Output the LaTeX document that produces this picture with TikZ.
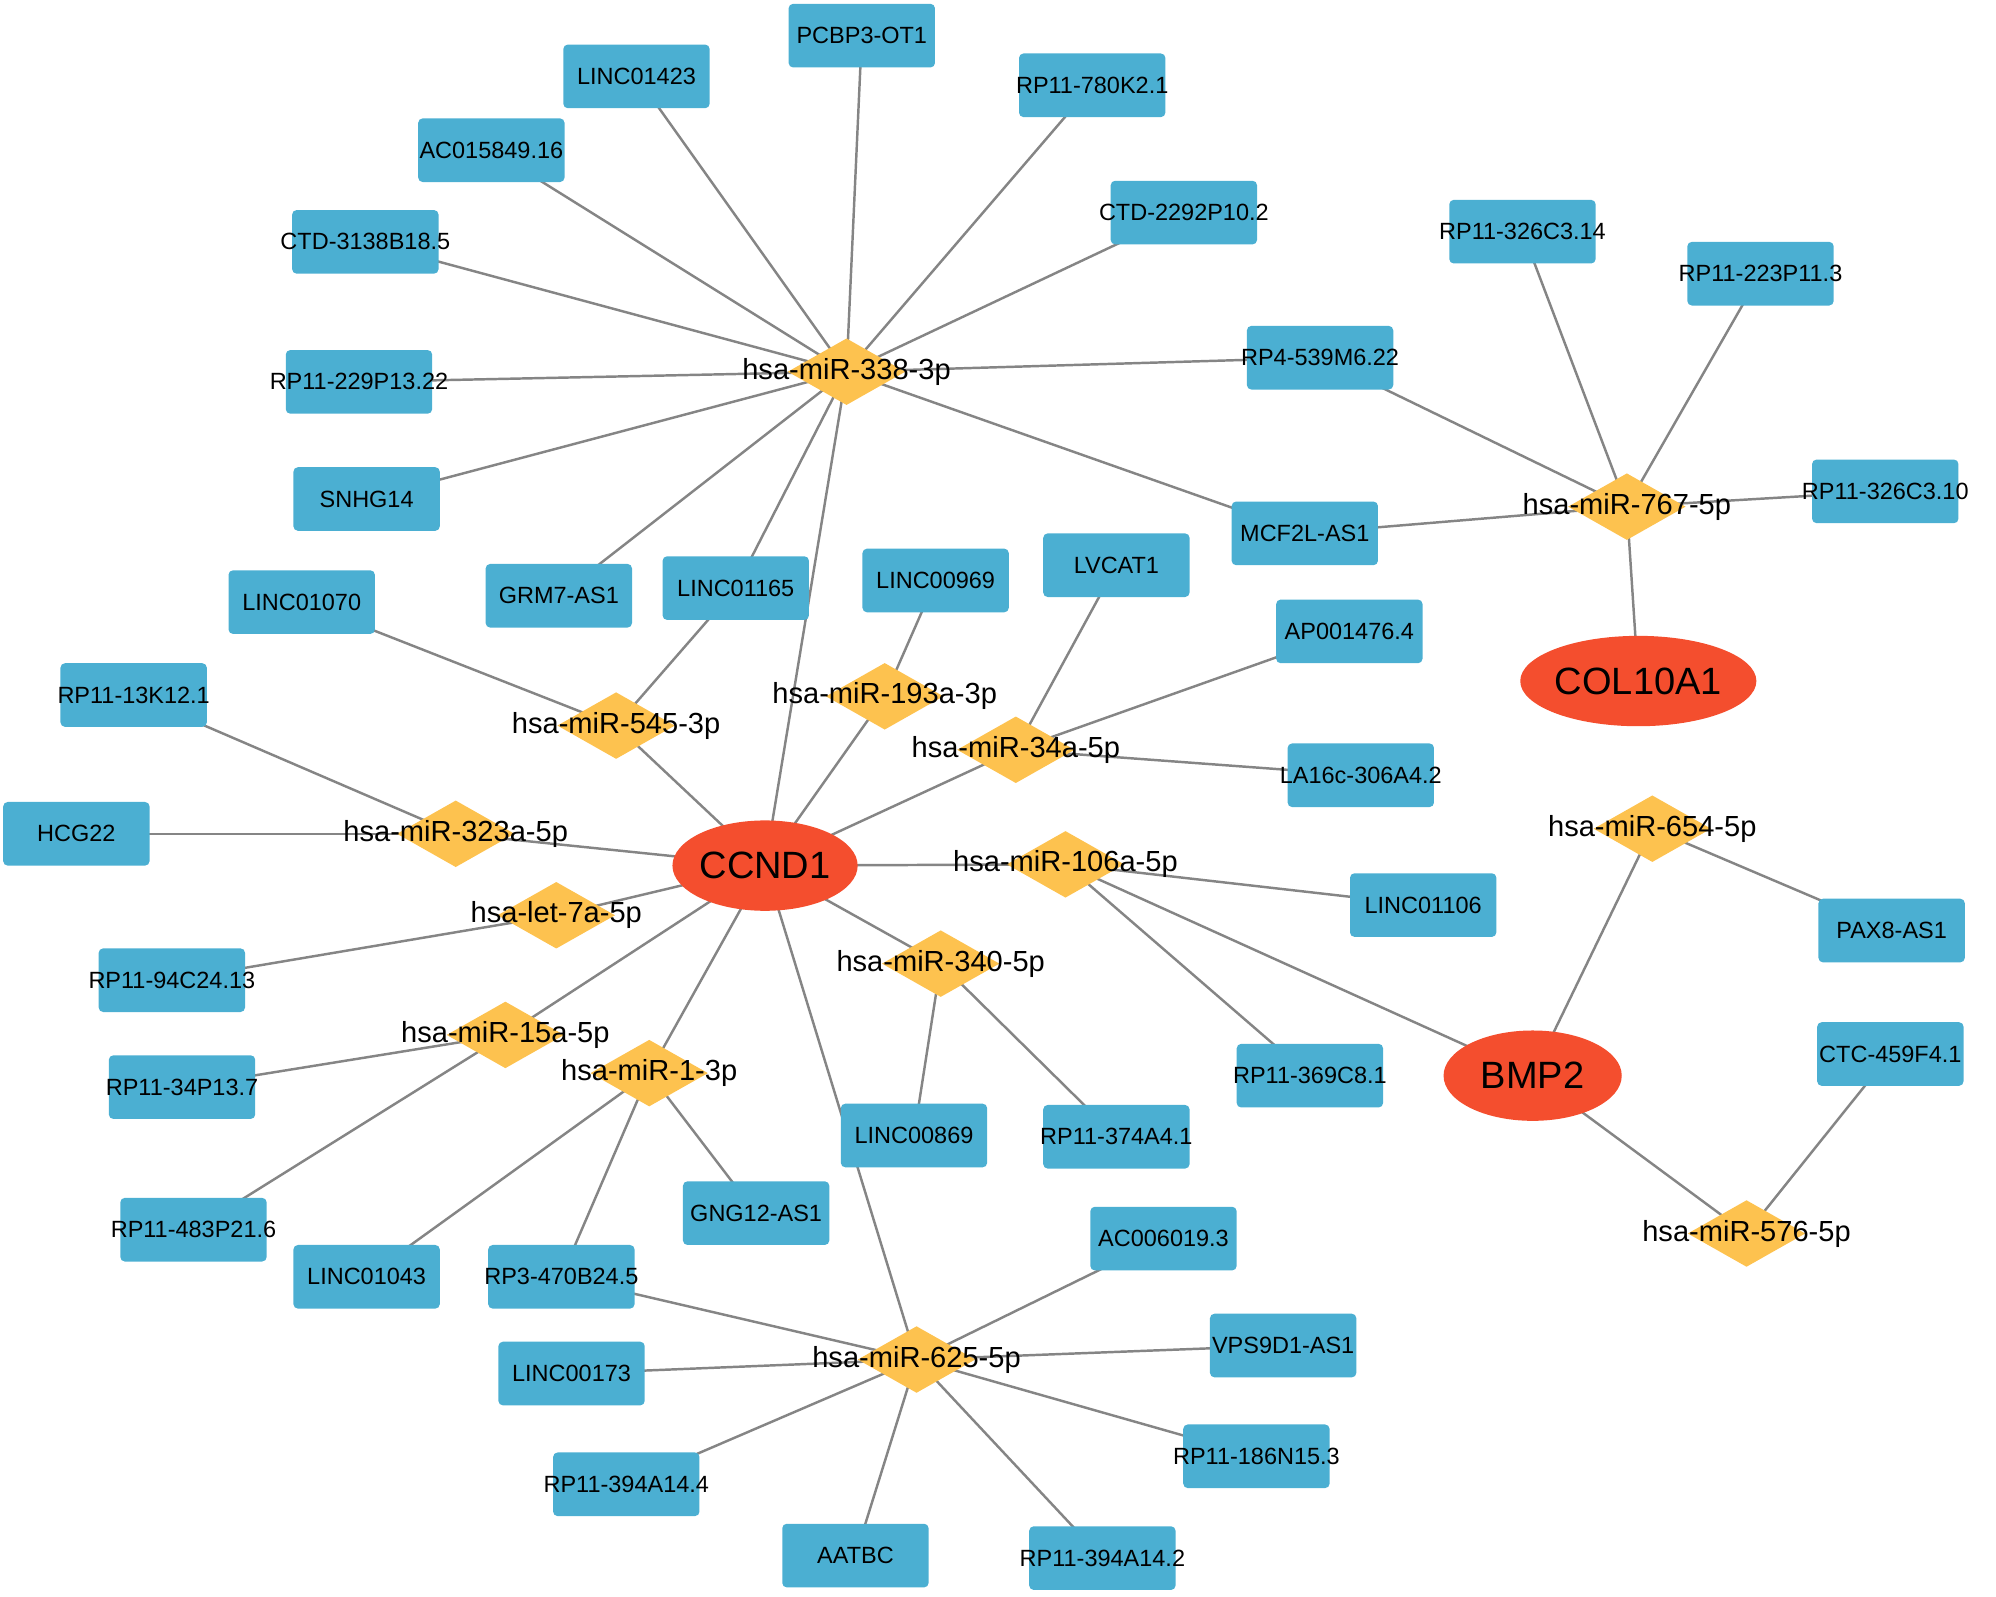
\documentclass[tikz,border=0pt]{standalone}
\usepackage{fontspec}
\setmainfont{Liberation Sans}
\usetikzlibrary{shapes.geometric,backgrounds}
\definecolor{boxc}{HTML}{4BAFD2}
\definecolor{diac}{HTML}{FDC24F}
\definecolor{genec}{HTML}{F44E2E}
\definecolor{edgec}{HTML}{858585}
\tikzset{
  bxs/.style={rectangle,rounded corners=2pt,fill=boxc,minimum width=2.3cm,minimum height=1.0cm,inner sep=0},
  bxt/.style={font=\fontsize{10.5}{12}\selectfont,inner sep=0},
  dias/.style={diamond,fill=diac,minimum width=1.85cm,minimum height=1.05cm,inner sep=0},
  diat/.style={font=\fontsize{13}{15}\selectfont,inner sep=0},
  genes/.style={ellipse,fill=genec,minimum width=2.8cm,minimum height=1.42cm,inner sep=0,font=\fontsize{17}{20}\selectfont},
  edge/.style={draw=edgec,line width=1.1pt}
}
\newcommand{\bx}[4]{\node[bxs] (#1) at (#2,#3) {}; \node[bxt] at (#2,#3) {#4};}
\newcommand{\mir}[4]{\node[dias] (#1) at (#2,#3) {}; \node[diat] at (#2,#3) {#4};}
\begin{document}
\begin{tikzpicture}[x=0.02cm,y=-0.02cm]
\useasboundingbox (0,0) rectangle (1568,1254);
\bx{a1}{500}{60}{LINC01423}
\bx{a2}{677}{28}{PCBP3-OT1}
\bx{a3}{858}{67}{RP11-780K2.1}
\bx{a4}{386}{118}{AC015849.16}
\bx{a5}{930}{167}{CTD-2292P10.2}
\bx{a6}{287}{190}{CTD-3138B18.5}
\bx{a7}{1196}{182}{RP11-326C3.14}
\bx{a8}{1383}{215}{RP11-223P11.3}
\bx{a9}{282}{300}{RP11-229P13.22}
\bx{a10}{1037}{281}{RP4-539M6.22}
\bx{a11}{288}{392}{SNHG14}
\bx{a12}{1481}{386}{RP11-326C3.10}
\bx{a13}{1025}{419}{MCF2L-AS1}
\bx{a14}{439}{468}{GRM7-AS1}
\bx{a15}{578}{462}{LINC01165}
\bx{a16}{735}{456}{LINC00969}
\bx{a17}{877}{444}{LVCAT1}
\bx{a18}{237}{473}{LINC01070}
\bx{a19}{1060}{496}{AP001476.4}
\bx{a20}{105}{546}{RP11-13K12.1}
\bx{a21}{1069}{609}{LA16c-306A4.2}
\bx{a22}{60}{655}{HCG22}
\bx{a23}{1118}{711}{LINC01106}
\bx{a24}{1486}{731}{PAX8-AS1}
\bx{a25}{135}{770}{RP11-94C24.13}
\bx{a26}{1485}{828}{CTC-459F4.1}
\bx{a27}{143}{854}{RP11-34P13.7}
\bx{a28}{1029}{845}{RP11-369C8.1}
\bx{a29}{718}{892}{LINC00869}
\bx{a30}{877}{893}{RP11-374A4.1}
\bx{a31}{152}{966}{RP11-483P21.6}
\bx{a32}{594}{953}{GNG12-AS1}
\bx{a33}{914}{973}{AC006019.3}
\bx{a34}{288}{1003}{LINC01043}
\bx{a35}{441}{1003}{RP3-470B24.5}
\bx{a36}{1008}{1057}{VPS9D1-AS1}
\bx{a37}{449}{1079}{LINC00173}
\bx{a38}{987}{1144}{RP11-186N15.3}
\bx{a39}{492}{1166}{RP11-394A14.4}
\bx{a40}{672}{1222}{AATBC}
\bx{a41}{866}{1224}{RP11-394A14.2}
\mir{m338}{665}{292}{hsa-miR-338-3p}
\mir{m767}{1278}{398}{hsa-miR-767-5p}
\mir{m545}{484}{570}{hsa-miR-545-3p}
\mir{m193}{695}{547}{hsa-miR-193a-3p}
\mir{m34}{798}{589}{hsa-miR-34a-5p}
\mir{m323}{358}{655}{hsa-miR-323a-5p}
\mir{m106}{837}{679}{hsa-miR-106a-5p}
\mir{m654}{1298}{651}{hsa-miR-654-5p}
\mir{let}{437}{719}{hsa-let-7a-5p}
\mir{m340}{739}{757}{hsa-miR-340-5p}
\mir{m15}{397}{813}{hsa-miR-15a-5p}
\mir{m1}{510}{843}{hsa-miR-1-3p}
\mir{m576}{1372}{969}{hsa-miR-576-5p}
\mir{m625}{720}{1068}{hsa-miR-625-5p}
\node[genes] (ccnd) at (601,680) {CCND1};
\node[genes,minimum width=3cm] (col) at (1287,535) {COL10A1};
\node[genes] (bmp) at (1204,845) {BMP2};
\begin{scope}[on background layer]
\foreach \s/\t in {m338/a1,m338/a2,m338/a3,m338/a4,m338/a5,m338/a6,m338/a9,m338/a10,m338/a11,m338/a13,m338/a14,m338/a15,m338/ccnd,
 m767/a7,m767/a8,m767/a10,m767/a12,m767/a13,m767/col,
 m545/a18,m545/a15,m545/ccnd, m193/a16,m193/ccnd, m34/a17,m34/a19,m34/a21,m34/ccnd,
 m323/a20,m323/a22,m323/ccnd, m106/ccnd,m106/a23,m106/a28,m106/bmp, m654/a24,m654/bmp,
 let/a25,let/ccnd, m340/ccnd,m340/a29,m340/a30, m15/a27,m15/a31,m15/ccnd,
 m1/ccnd,m1/a34,m1/a35,m1/a32, m576/bmp,m576/a26,
 m625/ccnd,m625/a33,m625/a36,m625/a37,m625/a35,m625/a38,m625/a39,m625/a40,m625/a41}
 \draw[edge] (\s.center) -- (\t.center);
\end{scope}
\end{tikzpicture}
\end{document}
